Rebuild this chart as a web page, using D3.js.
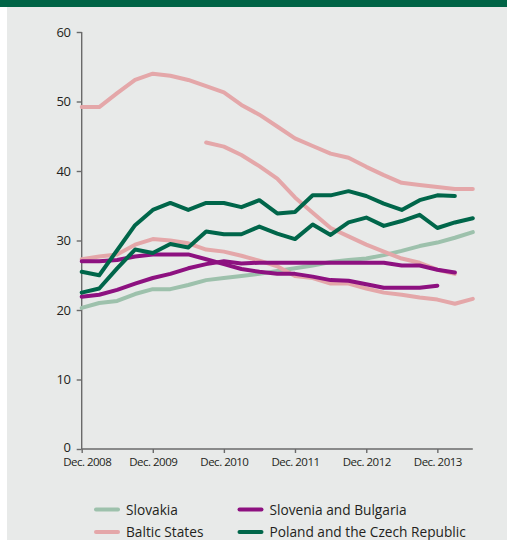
<!DOCTYPE html>
<html>
<head>
<meta charset="utf-8">
<script src="https://cdn.jsdelivr.net/npm/d3@7"></script>
<style>
  html, body { margin: 0; padding: 0; background: #ffffff; }
  svg { display: block; }
  text { font-family: "Open Sans", "Noto Sans", sans-serif; fill: #231f20; }
</style>
</head>
<body>
<svg id="chart" width="507" height="540"></svg>
<script>
// Quarterly observations, Dec. 2008 – Jun. 2014
const quarters = ["2008-12","2009-03","2009-06","2009-09","2009-12","2010-03","2010-06","2010-09",
  "2010-12","2011-03","2011-06","2011-09","2011-12","2012-03","2012-06","2012-09",
  "2012-12","2013-03","2013-06","2013-09","2013-12","2014-03","2014-06"];

const yTicks = [0, 10, 20, 30, 40, 50, 60];
const xTickLabels = ["Dec. 2008","Dec. 2009","Dec. 2010","Dec. 2011","Dec. 2012","Dec. 2013"];

const slovakia = [20.3,21.0,21.3,22.3,23.0,23.0,23.6,24.3,24.6,24.9,25.2,25.6,26.0,26.4,26.9,27.2,27.4,27.9,28.5,29.2,29.7,30.4,31.2];

const balticA = [49.2,49.2,51.2,53.1,54.0,53.7,53.1,52.2,51.3,49.5,48.1,46.4,44.7,43.6,42.5,41.9,40.6,39.4,38.3,38.0,37.7,37.4,37.4];
const balticB = [null,null,null,null,null,null,null,44.1,43.5,42.3,40.7,38.9,36.2,34.0,31.8,30.6,29.4,28.4,27.4,26.8,25.8,25.2,null];
const balticC = [27.3,27.7,28.0,29.4,30.2,30.0,29.6,28.7,28.4,27.8,27.1,26.3,24.9,24.6,23.8,23.8,23.1,22.5,22.2,21.8,21.5,20.9,21.6];

const sloveniaBulgariaA = [27.0,27.0,27.2,27.7,28.0,28.0,28.0,27.3,26.6,25.9,25.5,25.2,25.2,24.8,24.3,24.2,23.7,23.2,23.2,23.2,23.5,null,null];
const sloveniaBulgariaB = [21.9,22.2,22.9,23.8,24.6,25.2,26.0,26.6,27.0,26.7,26.8,26.8,26.8,26.8,26.8,26.8,26.8,26.8,26.4,26.4,25.8,25.4,null];

const polandCzechA = [25.5,25.0,28.6,32.2,34.4,35.4,34.4,35.4,35.4,34.8,35.8,33.9,34.1,36.5,36.5,37.1,36.4,35.3,34.4,35.8,36.5,36.4,null];
const polandCzechB = [22.5,23.1,26.0,28.7,28.2,29.5,29.0,31.3,30.9,30.9,32.0,31.0,30.2,32.3,30.8,32.6,33.3,32.1,32.8,33.7,31.8,32.6,33.2];

const legendNames = ["Slovakia","Baltic States","Slovenia and Bulgaria","Poland and the Czech Republic"];
const colors = ["#9dc1ac","#e4a7a9","#8d1180","#00664a"];

const series = [
  {name: legendNames[0], values: slovakia, color: colors[0]},
  {name: legendNames[1], values: balticA, color: colors[1]},
  {name: legendNames[1], values: balticB, color: colors[1]},
  {name: legendNames[1], values: balticC, color: colors[1]},
  {name: legendNames[2], values: sloveniaBulgariaA, color: colors[2]},
  {name: legendNames[2], values: sloveniaBulgariaB, color: colors[2]},
  {name: legendNames[3], values: polandCzechA, color: colors[3]},
  {name: legendNames[3], values: polandCzechB, color: colors[3]}
];

const parse = d3.timeParse("%Y-%m");
const dates = quarters.map(parse);

const svg = d3.select("#chart");

// header band and panel background
svg.append("rect").attr("x", 0).attr("y", 0).attr("width", 507).attr("height", 7).attr("fill", "#006446");
svg.append("rect").attr("x", 7).attr("y", 7).attr("width", 500).attr("height", 533).attr("fill", "#e8eae9");

const x = d3.scaleTime().domain([dates[0], dates[dates.length - 1]]).range([81.7, 472.8]);
const y = d3.scaleLinear().domain([0, 60]).range([449, 32]);

// axes
const axisColor = "#6a6a6a";
const yAxis = svg.append("g").attr("transform", "translate(81.7,0)")
  .call(d3.axisLeft(y).tickValues(yTicks).tickSize(5).tickPadding(6).tickFormat(d3.format("d")));
yAxis.select(".domain").attr("stroke", axisColor).attr("stroke-width", 1.4).attr("d", `M0,${y(60)}V${y(0)}`);
yAxis.selectAll(".tick line").attr("stroke", axisColor).attr("stroke-width", 1.4);
yAxis.selectAll(".tick text").attr("font-size", 13).attr("font-family", "'Open Sans', sans-serif").attr("fill", "#231f20").attr("letter-spacing", -0.3)
  .attr("dy", d => d === 0 ? "0.2em" : "0.32em");

const xTickDates = xTickLabels.map(s => parse("20" + s.slice(-2) + "-12"));
const xAxis = svg.append("g").attr("transform", "translate(0,449)")
  .call(d3.axisBottom(x).tickValues(xTickDates).tickSize(4).tickPadding(5)
    .tickFormat((d, i) => xTickLabels[i]));
xAxis.select(".domain").attr("stroke", axisColor).attr("stroke-width", 1.4).attr("d", `M${x.range()[0]},0H${x.range()[1]}`);
xAxis.selectAll(".tick line").attr("stroke", axisColor).attr("stroke-width", 1.4);
xAxis.selectAll(".tick text").attr("font-size", 11.5).attr("font-family", "'Open Sans', sans-serif")
  .attr("fill", "#231f20").attr("letter-spacing", -0.5)
  .attr("dx", (d, i) => i === 0 ? 5 : 0);

// lines
const line = d3.line()
  .defined(d => d.v !== null)
  .x(d => x(d.date))
  .y(d => y(d.v));

svg.append("g").selectAll("path").data(series).join("path")
  .attr("d", s => line(s.values.map((v, i) => ({date: dates[i], v}))))
  .attr("fill", "none")
  .attr("stroke", s => s.color)
  .attr("stroke-width", 4)
  .attr("stroke-linejoin", "round")
  .attr("stroke-linecap", "round");

// legend
const legendPos = [
  {lx: 96, ly: 509.5}, {lx: 96, ly: 532}, {lx: 239.5, ly: 509.5}, {lx: 239.5, ly: 532}
];
const lg = svg.append("g");
legendNames.forEach((name, i) => {
  const p = legendPos[i];
  lg.append("line").attr("x1", p.lx).attr("x2", p.lx + 22).attr("y1", p.ly).attr("y2", p.ly)
    .attr("stroke", colors[i]).attr("stroke-width", 4).attr("stroke-linecap", "round");
  lg.append("text").attr("x", p.lx + 30).attr("y", p.ly + 5)
    .attr("font-size", 13.7).text(name);
});
</script>
</body>
</html>
